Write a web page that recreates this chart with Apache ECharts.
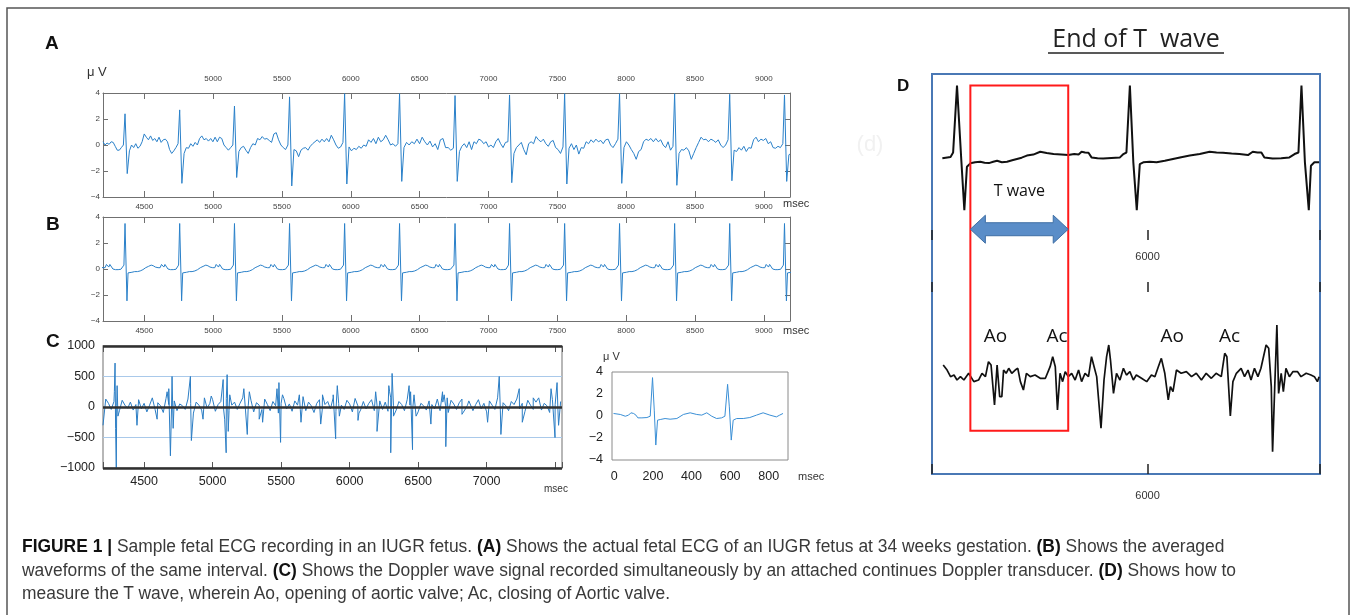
<!DOCTYPE html>
<html>
<head>
<meta charset="utf-8">
<title>Fetal ECG figure</title>
<script src="https://cdn.jsdelivr.net/npm/echarts@6/dist/echarts.min.js"></script>
<style>
    html, body { margin: 0; padding: 0; background: #fff; }
    #main { position: absolute; left: 0; top: 0; width: 1357px; height: 615px; }
    #caption {
        position: absolute; left: 22px; top: 535px;
        font-family: "Liberation Sans Narrow", "Liberation Sans", sans-serif;
        font-size: 17.5px; line-height: 23.5px; color: #3a3a3a;
        white-space: nowrap; transform-origin: 0 0;
    }
    #caption b { color: #111; }
</style>
</head>
<body>
<div id="main"></div>
<div id="caption">
    <div id="capLine1"><b>FIGURE 1 |</b> Sample fetal ECG recording in an IUGR fetus. <b>(A)</b> Shows the actual fetal ECG of an IUGR fetus at 34 weeks gestation. <b>(B)</b> Shows the averaged</div>
    <div>waveforms of the same interval. <b>(C)</b> Shows the Doppler wave signal recorded simultaneously by an attached continues Doppler transducer. <b>(D)</b> Shows how to</div>
    <div>measure the T wave, wherein Ao, opening of aortic valve; Ac, closing of Aortic valve.</div>
</div>
<script>
// R peak times (msec) shared by panels A and B
var beatTimes = [4360, 4757, 5155, 5555, 5955, 6354, 6757, 7153, 7553, 7952, 8352, 8752, 9150];

// panel A: raw fetal ECG (uV)
var rawR = [2.4, 2.7, 3.0, 3.7, 3.95, 3.95, 3.8, 3.85, 3.95, 3.95, 3.95, 3.9, 3.85];
var rawS = [-2.2, -2.95, -2.5, -3.15, -3.0, -2.8, -2.8, -2.9, -3.0, -2.95, -3.1, -2.75, -2.8];
var rawBaseline = [
    [0.25, 0.0, 0.15, 0.05, 0.25, 0.2, -0.1, -0.4, -0.4, -0.2, 0.0],
    [-0.45, 0.0, -0.2, 0.1, -0.25, -0.1, 0.25, 0.85, 0.6, 0.4, 0.7, 0.35, 0.5, 0.25, 0.6, 0.2, 0.4, 0.45, 0.25, -0.35, -0.65, -0.45, -0.2, 0.1],
    [-0.65, -0.2, -0.25, 0.1, -0.1, 0.2, 0.0, 0.5, 0.7, 0.4, 0.5, 0.3, 0.5, 0.25, 0.6, 0.25, 0.6, 0.5, 0.0, -0.2, -0.4, -0.2, 0.0],
    [-0.5, -0.2, -0.1, -0.4, -0.65, -0.2, 0.1, 0.0, 0.5, 0.4, 0.65, 0.45, 0.5, 0.35, 0.2, 0.85, 0.95, 0.4, 0.0, -0.2, -0.35, 0.0],
    [-0.35, -0.45, -0.9, -0.4, -0.25, -0.2, -0.4, -0.1, 0.1, 0.25, 0.4, 0.2, 0.45, 0.25, 0.5, 0.25, 0.75, 0.4, 0.0, -0.25, -0.15, 0.2],
    [-0.15, -0.45, -0.25, -0.35, -0.1, -0.25, 0.0, -0.1, 0.4, 0.2, 0.5, 0.1, 0.6, 0.25, 0.4, 0.75, 0.4, 0.0, 0.1, -0.1, 0.1],
    [-0.2, 0.2, 0.0, 0.25, 0.1, 0.45, 0.1, 0.6, 0.25, 0.0, 0.3, -0.15, 0.1, -0.35, 0.4, 0.5, -0.2, -0.2, -0.4, -0.25],
    [-0.5, -0.1, 0.1, -0.2, 0.25, -0.35, 0.25, 0.1, 0.45, 0.35, 0.1, 0.25, -0.15, 0.0, -0.2, 0.25, 0.5, 0.1, -0.2, 0.2, 0.25],
    [-0.65, -0.2, 0.0, 0.2, -0.35, -0.75, 0.1, 0.25, 0.1, 0.65, 0.4, 0.25, 0.45, 0.1, -0.1, 0.25, 0.35, -0.2, -0.35, -0.65, -0.15],
    [-0.25, 0.1, -0.35, 0.0, -0.7, -0.2, -0.25, 0.25, 0.1, 0.4, 0.2, 0.45, 0.25, 0.35, 0.1, 0.4, 0.45, 0.0, -0.2, 0.1, 0.45],
    [-0.2, 0.25, 0.0, -0.35, -0.65, -1.1, -0.5, -0.35, 0.25, 0.45, 0.35, 0.5, 0.25, 0.5, 0.25, 0.4, 0.0, -0.2, 0.25, -0.4, -0.1],
    [-0.65, -0.35, -0.4, -0.2, -0.45, -1.1, -0.65, -0.2, 0.2, 0.6, 0.4, 0.45, 0.25, 0.45, 0.35, 0.2, 0.4, 0.0, -0.2, 0.0, 0.4],
    [-0.4, -0.5, -0.2, -0.4, -0.1, -0.5, -0.2, -0.25, 0.4, 0.6, 0.25, 0.45, 0.35, 0.5, 0.1, 0.25, -0.2, -0.25, -0.1, -0.2, 0.1],
    [-0.75, -0.7]
];

// panel B: averaged beat, offsets from the R peak (msec) and values (uV)
var avgOffsets = [-20, -8, 0, 14, 22, 30, 50, 70, 90, 110, 130, 150, 170, 190, 205, 220, 240, 255, 265, 275, 282, 290, 300, 312, 330, 350, 370];
var avgValues = [0.0, 0.3, 3.5, -2.45, -0.3, -0.2, -0.25, -0.2, -0.2, -0.15, -0.05, 0.1, 0.2, 0.3, 0.25, 0.15, 0.1, 0.1, 0.35, 0.3, 0.15, 0.35, 0.3, 0.0, -0.05, -0.05, -0.02];

// panel C: Doppler signal, background every 20 msec from 4200, plus the large deflections
var dopplerNoise = [
    -300, 130, 60, -40, 90, 20, -60, 110, 30, -20,
    80, -50, 40, 120, -30, 60, -80, 30, 150, -40,
    70, 20, -90, 140, 40, -30, 100, -60, 50, 20,
    -40, 130, 60, -100, 80, 30, -50, 150, -20, 60,
    120, -70, 40, 90, -30, 140, -60, 30, 80, -40,
    60, 150, -50, 20, 110, -80, 70, 30, -40, 130,
    40, -60, 90, 20, -100, 60, 140, -30, 50, -70,
    100, 30, -40, 170, -60, 80, 20, -90, 60, 120,
    -50, 40, 90, -30, 150, -70, 60, 30, -40, 110,
    50, -80, 140, 20, -50, 90, -30, 60, 120, -60,
    30, 100, -40, 80, -70, 150, 20, -50, 90, 40,
    -60, 120, 30, -40, 170, -80, 60, 20, -50, 100,
    40, -30, 130, -60, 80, 20, -90, 110, 50, -40,
    70, 130, -50, 30, 90, -60, 40, 120, -30, 60,
    -80, 100, 30, -40, 150, -50, 70, 20, -60, 90,
    40, 130, -30, 60, -70, 110, 30, -40, 80, 150,
    -50, 60, 20, -90, 120, 40, -30, 90
];
var dopplerSpikes = [
    [4283, 250], [4288, 720], [4292, -350], [4297, -1000], [4303, 350], [4309, -150],
    [4448, -300], [4595, -200],
    [4668, 250], [4680, 300], [4692, -800], [4704, 500], [4712, -350],
    [4838, 500], [4845, -550], [4930, -200], [4990, 180],
    [5077, 450], [5088, -200], [5099, -750], [5106, 530], [5114, -400], [5125, 200],
    [5228, 300], [5253, -450], [5268, 250], [5340, -200], [5365, -250],
    [5470, 300], [5484, 400], [5496, -580], [5510, 200],
    [5633, 200], [5645, -250], [5789, -280], [5802, 200],
    [5880, 200], [5898, -520], [5910, 350], [5925, -150],
    [6061, -220], [6068, -100], [6190, 250], [6200, -400],
    [6286, 350], [6292, 250], [6300, -750], [6310, 550], [6320, -150],
    [6434, 350], [6445, 250], [6459, -700], [6470, 200], [6485, -150],
    [6593, -280],
    [6678, 250], [6690, 200], [6702, -650], [6712, 150],
    [6820, -120], [6870, 100], [7007, -250],
    [7092, 500], [7104, -450], [7238, 300], [7260, -250], [7340, 150],
    [7470, 300], [7499, -500], [7514, 400], [7525, -300], [7540, 100]
];

// inset: averaged waveform, two beats
var insetMs = [-4, 31, 57, 74, 86, 100, 112, 122, 143, 169, 186, 198, 207, 215, 224, 238, 263, 289, 324, 358, 393, 427, 453, 479, 505, 530, 556, 573, 587, 596, 606, 616, 634, 668, 702, 737, 771, 806, 840, 857, 874];
var insetUv = [0.23, 0.14, -0.02, 0.08, 0.29, 0.23, 0.08, -0.17, -0.17, -0.14, -0.02, 3.49, 0.53, -2.64, -0.38, -0.32, -0.23, -0.29, -0.23, 0.14, 0.29, 0.14, 0.08, 0.29, -0.02, -0.23, -0.17, -0.02, 2.88, 0.83, -2.19, -0.38, -0.23, -0.23, -0.14, 0.08, 0.29, 0.08, -0.08, 0.08, 0.23];

// panel D: ECG trace (top) and Doppler trace (bottom)
var ecgDMs = [5524, 5543, 5549, 5558, 5568, 5575, 5581, 5589, 5600, 5612, 5622, 5632, 5642, 5651, 5662, 5674, 5686, 5697, 5708, 5720, 5735, 5751, 5766, 5782, 5800, 5816, 5830, 5840, 5847, 5855, 5863, 5870, 5884, 5897, 5916, 5936, 5944, 5951, 5959, 5967, 5975, 5982, 5990, 6005, 6021, 6040, 6059, 6078, 6098, 6121, 6144, 6160, 6175, 6195, 6213, 6233, 6244, 6255, 6264, 6271, 6290, 6310, 6329, 6341, 6350, 6357, 6365, 6374, 6379, 6387, 6398];
var ecgDVal = [-0.22, -0.17, 0.0, 2.59, -0.3, -2.23, -0.55, -0.42, -0.38, -0.36, -0.4, -0.41, -0.36, -0.32, -0.38, -0.36, -0.3, -0.25, -0.2, -0.12, -0.08, 0.03, -0.02, -0.06, -0.08, -0.1, -0.06, -0.08, 0.03, 0.0, -0.01, -0.19, -0.22, -0.23, -0.21, -0.19, -0.06, 0.0, 2.59, -0.38, -2.23, -0.45, -0.38, -0.36, -0.38, -0.32, -0.25, -0.18, -0.12, -0.06, 0.03, 0.0, -0.01, -0.04, -0.06, -0.1, 0.03, 0.0, 0.0, -0.19, -0.23, -0.22, -0.19, -0.06, 0.0, 2.59, -0.38, -2.23, -0.51, -0.38, -0.38];
var dopDMs = [5526, 5529, 5535, 5543, 5551, 5558, 5566, 5574, 5585, 5597, 5608, 5616, 5624, 5631, 5637, 5645, 5651, 5657, 5662, 5666, 5672, 5678, 5685, 5693, 5699, 5705, 5712, 5719, 5728, 5739, 5751, 5763, 5774, 5780, 5786, 5791, 5797, 5803, 5809, 5816, 5824, 5832, 5840, 5847, 5855, 5863, 5870, 5876, 5882, 5892, 5899, 5905, 5910, 5914, 5921, 5928, 5936, 5944, 5951, 5959, 5967, 5974, 5986, 5998, 6009, 6017, 6025, 6032, 6040, 6048, 6053, 6059, 6067, 6078, 6090, 6102, 6113, 6125, 6136, 6148, 6159, 6171, 6179, 6184, 6192, 6198, 6206, 6217, 6225, 6233, 6240, 6248, 6256, 6263, 6275, 6281, 6287, 6290, 6295, 6300, 6304, 6310, 6315, 6321, 6329, 6337, 6348, 6356, 6368, 6379, 6387, 6394, 6398];
var dopDVal = [13.5, 15.3, 8.3, 1.4, 3.1, -2.1, 1.4, -2.1, 4.9, -3.8, -2.1, 4.9, 1.4, 17.0, 13.5, -28.1, 13.5, -19.4, -19.4, 8.3, 4.9, 10.1, 4.9, 8.3, 10.1, -3.8, -12.5, 4.9, 1.4, 3.1, -0.3, -0.3, 11.8, 22.2, 11.8, -33.3, 4.9, -3.8, 6.6, 1.4, 4.9, -2.1, 8.3, -3.8, 4.9, 1.4, 22.2, 11.8, 1.4, -52.4, -2.1, 22.2, 34.4, 18.7, -16.0, 4.9, -2.1, 10.1, 3.1, 6.6, -2.1, 3.1, -0.3, -3.8, 3.1, 1.4, 11.8, 20.5, 4.9, -22.9, -9.0, -14.2, 8.3, 4.9, 6.6, 1.4, 4.9, -2.1, 4.9, -0.3, 4.9, 1.4, 25.7, 22.2, -39.6, -3.8, 4.9, 10.1, 1.4, 8.3, -2.1, 10.1, 1.4, 10.1, 34.4, 30.9, -9.0, -76.7, -9.0, 55.2, -16.0, 4.9, -14.2, 10.1, 1.4, 6.6, 6.6, 1.4, 4.9, 3.1, 1.4, -3.8, 1.4];

// annotations of panel D
var tWaveWindow = [5589, 5816];
var valveLabels = ['Ao', 'Ac', 'Ao', 'Ac'];
var valveMs = [5647, 5790, 6057, 6190];

function buildRaw() {
    var out = [];
    var start = 4200;
    for (var k = 0; k < rawBaseline.length; k++) {
        var seg = rawBaseline[k];
        var end = k < beatTimes.length ? beatTimes[k] - 12 : 9190;
        for (var i = 0; i < seg.length; i++) {
            out.push([start + (end - start) * i / (seg.length - 1), seg[i]]);
        }
        if (k < beatTimes.length) {
            out.push([beatTimes[k], rawR[k]]);
            out.push([beatTimes[k] + 16, rawS[k]]);
            start = beatTimes[k] + 32;
        }
    }
    return out;
}

function buildAveraged() {
    var out = [];
    [beatTimes[0] - 400].concat(beatTimes).forEach(function (r) {
        for (var i = 0; i < avgOffsets.length; i++) out.push([r + avgOffsets[i], avgValues[i]]);
    });
    return out;
}

function buildDoppler() {
    var pts = dopplerNoise.map(function (v, i) { return [4200 + 20 * i, v]; });
    pts = pts.concat(dopplerSpikes);
    pts.sort(function (a, b) { return a[0] - b[0]; });
    return pts;
}

function zip(xs, ys) {
    return xs.map(function (x, i) { return [x, ys[i]]; });
}

var numFont = 'Liberation Sans';
var minus = function (v) { return String(v).replace('-', '\u2212'); };

function boxX(grid, pos, showLabel, fromMs, margin) {
    return {
        type: 'value', gridIndex: grid, position: pos, min: 4200, max: 9190,
        splitNumber: 10, minInterval: 500, maxInterval: 500,
        axisLine: { show: true, onZero: false, lineStyle: { color: '#707070', width: 1 } },
        axisTick: { show: true, inside: true, length: 6, lineStyle: { color: '#707070' } },
        splitLine: { show: false },
        axisLabel: {
            show: showLabel, margin: margin, fontSize: 8, color: '#444', fontFamily: numFont,
            formatter: function (v) { return (v % 500 === 0 && v >= fromMs) ? String(v) : ''; }
        }
    };
}

function boxY(grid, pos, showLabel) {
    return {
        type: 'value', gridIndex: grid, position: pos, min: -4, max: 4, interval: 2,
        axisLine: { show: true, onZero: false, lineStyle: { color: '#707070', width: 1 } },
        axisTick: { show: true, inside: true, length: 5, lineStyle: { color: '#707070' } },
        splitLine: { show: false },
        axisLabel: { show: showLabel, margin: 3, fontSize: 8, color: '#444', fontFamily: numFont, formatter: minus }
    };
}

function dAxis(grid, pos, inside, showLabel, margin) {
    return {
        type: 'value', gridIndex: grid, position: pos, min: 5500, max: 6400,
        minInterval: 500, maxInterval: 500,
        axisLine: { show: false, onZero: false },
        axisTick: { show: true, inside: inside, length: 10, lineStyle: { color: '#222', width: 1.5 } },
        splitLine: { show: false },
        axisLabel: {
            show: showLabel, margin: margin, fontSize: 11, color: '#333', fontFamily: numFont,
            formatter: function (v) { return v === 6000 ? '6000' : ''; }
        }
    };
}

var chart = echarts.init(document.getElementById('main'), null, { renderer: 'canvas' });
var option = {
    animation: false,
    backgroundColor: '#fff',
    grid: [
        { left: 103, top: 93, width: 687, height: 104 },
        { left: 103, top: 217, width: 687, height: 104 },
        { left: 103, top: 346, width: 459, height: 122, show: true, borderColor: '#a0a0a0', borderWidth: 1.5 },
        { left: 612, top: 372, width: 176, height: 88, show: true, borderColor: '#8a8a8a', borderWidth: 1 },
        { left: 932, top: 75, width: 388, height: 155 },
        { left: 932, top: 282, width: 388, height: 192 }
    ],
    xAxis: [
        boxX(0, 'bottom', true, 4500, 6),
        boxX(0, 'top', true, 5000, 10),
        boxX(1, 'bottom', true, 4500, 6),
        boxX(1, 'top', false, 4500, 6),
        {
            type: 'value', gridIndex: 2, position: 'bottom', min: 4200, max: 7550,
            splitNumber: 7, minInterval: 500, maxInterval: 500,
            axisLine: { show: false, onZero: false },
            axisTick: { show: true, inside: true, length: 6, lineStyle: { color: '#555' } },
            splitLine: { show: false },
            axisLabel: {
                margin: 7, fontSize: 12.5, color: '#222', fontFamily: numFont,
                formatter: function (v) { return (v % 500 === 0 && v < 7500) ? String(v) : ''; }
            }
        },
        {
            type: 'value', gridIndex: 2, position: 'top', min: 4200, max: 7550,
            splitNumber: 7, minInterval: 500, maxInterval: 500,
            axisLine: { show: false, onZero: false },
            axisTick: { show: true, inside: true, length: 6, lineStyle: { color: '#555' } },
            splitLine: { show: false },
            axisLabel: { show: false }
        },
        {
            type: 'value', gridIndex: 3, position: 'bottom', min: -12, max: 900,
            minInterval: 200, maxInterval: 200,
            axisLine: { show: false, onZero: false },
            axisTick: { show: false },
            splitLine: { show: false },
            axisLabel: {
                margin: 10, fontSize: 12.5, color: '#222', fontFamily: numFont,
                formatter: function (v) { return v % 200 === 0 ? String(v) : ''; }
            }
        },
        dAxis(4, 'bottom', false, true, 21),
        dAxis(5, 'bottom', true, true, 16),
        dAxis(5, 'top', true, false, 8)
    ],
    yAxis: [
        boxY(0, 'left', true),
        boxY(0, 'right', false),
        boxY(1, 'left', true),
        boxY(1, 'right', false),
        {
            type: 'value', gridIndex: 2, min: -1000, max: 1000, interval: 500,
            axisLine: { show: false, onZero: false },
            axisTick: { show: false },
            splitLine: { show: true, lineStyle: { color: '#a9c9ea', width: 1 } },
            axisLabel: { margin: 8, fontSize: 12.5, color: '#222', fontFamily: numFont, formatter: minus }
        },
        {
            type: 'value', gridIndex: 3, min: -4, max: 4, interval: 2,
            axisLine: { show: false, onZero: false },
            axisTick: { show: false },
            splitLine: { show: false },
            axisLabel: { margin: 9, fontSize: 12.5, color: '#222', fontFamily: numFont, formatter: minus }
        },
        { type: 'value', gridIndex: 4, min: -3, max: 3, show: false },
        { type: 'value', gridIndex: 5, min: -100, max: 100, show: false }
    ],
    series: [
        {
            name: 'raw', type: 'line', xAxisIndex: 0, yAxisIndex: 0, data: buildRaw(),
            symbol: 'none', lineStyle: { color: '#2a80c9', width: 1 }
        },
        {
            name: 'averaged', type: 'line', xAxisIndex: 2, yAxisIndex: 2, data: buildAveraged(),
            symbol: 'none', lineStyle: { color: '#2a80c9', width: 1 }
        },
        {
            name: 'doppler', type: 'line', xAxisIndex: 4, yAxisIndex: 4, data: buildDoppler(),
            symbol: 'none', lineStyle: { color: '#2b7dc4', width: 1 },
            markLine: {
                silent: true, symbol: 'none', label: { show: false },
                lineStyle: { color: '#303030', width: 2.5, type: 'solid' },
                data: [{ yAxis: 1000 }, { yAxis: 0 }, { yAxis: -1000 }]
            }
        },
        {
            name: 'inset', type: 'line', xAxisIndex: 6, yAxisIndex: 5, data: zip(insetMs, insetUv),
            symbol: 'none', lineStyle: { color: '#3a8fd6', width: 1 }
        },
        {
            name: 'ecgD', type: 'line', xAxisIndex: 7, yAxisIndex: 6, data: zip(ecgDMs, ecgDVal),
            symbol: 'none', lineStyle: { color: '#111', width: 2 }
        },
        {
            name: 'dopD', type: 'line', xAxisIndex: 8, yAxisIndex: 7, data: zip(dopDMs, dopDVal),
            symbol: 'none', lineStyle: { color: '#111', width: 1.7 }
        }
    ]
};
chart.setOption(option);

function txt(x, y, s, size, extra) {
    var style = { x: x, y: y, text: s, fontSize: size, fontFamily: numFont, fill: '#222', align: 'left', verticalAlign: 'middle' };
    for (var k in extra) style[k] = extra[k];
    return { type: 'text', style: style, silent: true };
}

// annotation overlay, placed from data values through the axes
var pTop = chart.convertToPixel({ seriesIndex: 4 }, [tWaveWindow[0], 2.59]);
var pTopR = chart.convertToPixel({ seriesIndex: 4 }, [tWaveWindow[1], 2.59]);
var pBot = chart.convertToPixel({ seriesIndex: 5 }, [tWaveWindow[0], -55]);
var arrowL = chart.convertToPixel({ seriesIndex: 4 }, [tWaveWindow[0], -2.97]);
var arrowR = chart.convertToPixel({ seriesIndex: 4 }, [tWaveWindow[1], -2.97]);
var tLabel = chart.convertToPixel({ seriesIndex: 4 }, [(tWaveWindow[0] + tWaveWindow[1]) / 2, -1.52]);
var yc = arrowL[1], xl = arrowL[0], xr = arrowR[0], hl = 15;
var arrowPts = [[xl, yc], [xl + hl, yc - 14], [xl + hl, yc - 6.5], [xr - hl, yc - 6.5], [xr - hl, yc - 14], [xr, yc],
    [xr - hl, yc + 14], [xr - hl, yc + 6.5], [xl + hl, yc + 6.5], [xl + hl, yc + 14]];

var graphics = [
    // outer figure frame
    { type: 'polyline', shape: { points: [[7, 615], [7, 8], [1349, 8], [1349, 615]] }, style: { stroke: '#555', lineWidth: 1.5, fill: null }, silent: true },
    txt(45, 44, 'A', 19, { fontWeight: 'bold', fill: '#111' }),
    txt(46, 225, 'B', 19, { fontWeight: 'bold', fill: '#111' }),
    txt(46, 342, 'C', 19, { fontWeight: 'bold', fill: '#111' }),
    txt(897, 86, 'D', 17, { fontWeight: 'bold', fill: '#111' }),
    txt(87, 72, '\u03bc V', 13, { fill: '#333' }),
    txt(783, 204, 'msec', 11, { fill: '#333' }),
    txt(783, 331, 'msec', 11, { fill: '#333' }),
    txt(544, 489, 'msec', 10, { fill: '#333' }),
    txt(603, 357, '\u03bc V', 11, { fill: '#333' }),
    txt(798, 477, 'msec', 11, { fill: '#333' }),
    txt(870, 145, '(d)', 22, { fill: '#f1f1f1', align: 'center' }),
    txt(1136, 40, 'End of T  wave', 25, { fontFamily: 'Open Sans', fill: '#222', align: 'center' }),
    { type: 'line', shape: { x1: 1048, y1: 53, x2: 1224, y2: 53 }, style: { stroke: '#222', lineWidth: 1.5 }, silent: true },
    { type: 'rect', shape: { x: 932, y: 74, width: 388, height: 400 }, style: { stroke: '#4a78b5', lineWidth: 2, fill: null }, silent: true },
    { type: 'rect', shape: { x: pTop[0], y: pTop[1], width: pTopR[0] - pTop[0], height: pBot[1] - pTop[1] }, style: { stroke: '#ff1a1a', lineWidth: 2, fill: null }, silent: true, z: 10 },
    { type: 'polygon', shape: { points: arrowPts }, style: { fill: '#5a8dc8', stroke: '#3f6fa5', lineWidth: 1 }, silent: true, z: 11 },
    txt(tLabel[0], tLabel[1], 'T wave', 16, { fontFamily: 'Open Sans', fill: '#111', align: 'center' })
];
valveLabels.forEach(function (s, i) {
    var p = chart.convertToPixel({ seriesIndex: 5 }, [valveMs[i], 42.7]);
    graphics.push(txt(p[0], p[1], s, 19, { fontFamily: 'Open Sans', fill: '#111', align: 'center' }));
});
chart.setOption({ graphic: graphics });

// fit the caption's first line to the reference width
var line1 = document.getElementById('capLine1');
var w = line1.getBoundingClientRect().width;
document.getElementById('caption').style.transform = 'scaleX(' + (1214 / w) + ')';
</script>
</body>
</html>
